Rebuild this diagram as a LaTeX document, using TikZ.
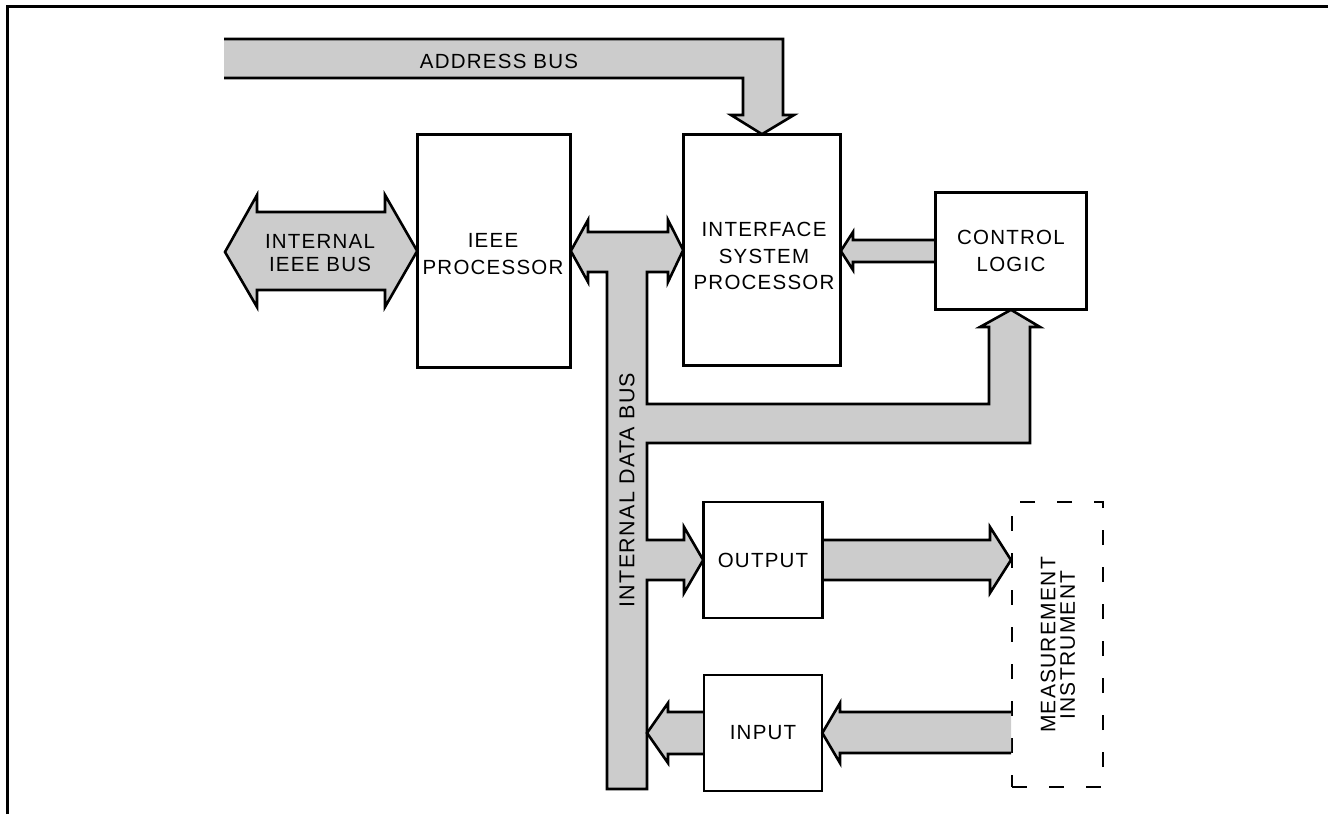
\documentclass[tikz,border=0pt]{standalone}
\usepackage{fontspec}
\setmainfont{Liberation Sans}[LetterSpace=6]
\tikzset{
  bus/.style={fill=black!20, draw=black, line width=2.6pt, line join=miter},
  busfill/.style={fill=black!20, draw=none},
  busline/.style={draw=black, line width=2.6pt, line join=miter},
  box/.style={draw=black, line width=1.6pt, fill=white, align=center, inner sep=0pt,
              font=\fontsize{20.5}{26.5}\selectfont},
  lbl/.style={align=center, inner sep=0pt, font=\fontsize{20.5}{26.5}\selectfont},
}
\begin{document}
\begin{tikzpicture}[x=1pt,y=-1pt]
\useasboundingbox (0,0) rectangle (1328,814);
% frame
\draw[line width=3pt] (7,814) -- (7,6) -- (1328,6);

% boxes
\node[box, minimum width=152, minimum height=232] (ieee) at (494,251) {};
\node[lbl] (ieeetext) at (493,254) {IEEE\\PROCESSOR};
\node[box, minimum width=156, minimum height=230] (isp) at (762,250) {};
\node[lbl] (isptext) at (764,256) {INTERFACE\\SYSTEM\\PROCESSOR};
\node[box, minimum width=150, minimum height=116] (ctl) at (1011,251) {CONTROL\\LOGIC};
\node[box, minimum width=118, minimum height=115] (out) at (763,560) {OUTPUT};
\node[box, minimum width=117, minimum height=115] (inp) at (763,733) {INPUT};
\node[draw=black, line width=2pt, dash pattern=on 15pt off 22pt, minimum width=91, minimum height=285,
      inner sep=0pt] (mi) at (1057.5,644.5) {};

% address bus (open left end)
\fill[busfill] (224,39) -- (783,39) -- (783,115) -- (794,115) -- (isp.north) -- (731,115)
  -- (743,115) -- (743,78) -- (224,78) -- cycle;
\draw[busline] (224,39) -- (783,39) -- (783,115) -- (794,115) -- (isp.north) -- (731,115)
  -- (743,115) -- (743,78) -- (224,78);
\node[lbl] (addr) at (499,61) {ADDRESS BUS};

% internal IEEE bus
\draw[bus] (225,252) -- (257,195) -- (257,212) -- (385,212) -- (385,195) -- (ieee.west)
  -- (385,307) -- (385,290) -- (257,290) -- (257,307) -- cycle;
\node[lbl, font=\fontsize{20.5}{23.5}\selectfont] (ieeebus) at (320,253) {INTERNAL\\IEEE BUS};

% internal data bus
\draw[bus] (ieee.east) -- (588,220) -- (588,232) -- (668,232) -- (668,220) -- (isp.west)
  -- (668,282) -- (668,272) -- (647,272) -- (647,404) -- (989,404) -- (989,327)
  -- (980,327) -- (ctl.south) -- (1040,327) -- (1030,327) -- (1030,443) -- (647,443)
  -- (647,540) -- (684,540) -- (684,527) -- (out.west) -- (684,593) -- (684,580)
  -- (647,580) -- (647,789) -- (607,789) -- (607,272) -- (588,272) -- (588,282) -- cycle;
\node[lbl, rotate=90, font=\fontsize{21.5}{24}\selectfont] (dbus) at (627,490) {INTERNAL DATA BUS};

% control logic -> ISP
\fill[busfill] (ctl.west |- 0,240) -- (853,240) -- (853,232) -- (isp.east |- 0,251) -- (853,270) -- (853,262) -- (ctl.west |- 0,262) -- cycle;
\draw[busline] (ctl.west |- 0,240) -- (853,240) -- (853,232) -- (isp.east |- 0,251) -- (853,270) -- (853,262) -- (ctl.west |- 0,262);

% output -> measurement instrument
\fill[busfill] (out.east |- 0,540) -- (990,540) -- (990,527) -- (mi.west |- 0,560) -- (990,593) -- (990,580) -- (out.east |- 0,580) -- cycle;
\draw[busline] (out.east |- 0,540) -- (990,540) -- (990,527) -- (mi.west |- 0,560) -- (990,593) -- (990,580) -- (out.east |- 0,580);

% measurement instrument -> input
\fill[busfill] (mi.west |- 0,712) -- (840,712) -- (840,703) -- (inp.east) -- (840,763) -- (840,753) -- (mi.west |- 0,753) -- cycle;
\draw[busline] (mi.west |- 0,712) -- (840,712) -- (840,703) -- (inp.east) -- (840,763) -- (840,753) -- (mi.west |- 0,753);

% input -> data bus
\fill[busfill] (inp.west |- 0,712) -- (668,712) -- (668,703) -- (647,733) -- (668,763) -- (668,754) -- (inp.west |- 0,754) -- cycle;
\draw[busline] (inp.west |- 0,712) -- (668,712) -- (668,703) -- (647,733) -- (668,763) -- (668,754) -- (inp.west |- 0,754);

% redraw boxes' borders on top
\draw[line width=1.6pt] (ieee.south west) rectangle (ieee.north east);
\draw[line width=1.6pt] (isp.south west) rectangle (isp.north east);
\draw[line width=1.6pt] (ctl.south west) rectangle (ctl.north east);
\draw[line width=1.6pt] (out.south west) rectangle (out.north east);
\draw[line width=1.6pt] (inp.south west) rectangle (inp.north east);

\node[lbl, rotate=90, font=\fontsize{21}{19.5}\selectfont] (mitext) at (1058,645) {MEASUREMENT\\INSTRUMENT};
\end{tikzpicture}
\end{document}
